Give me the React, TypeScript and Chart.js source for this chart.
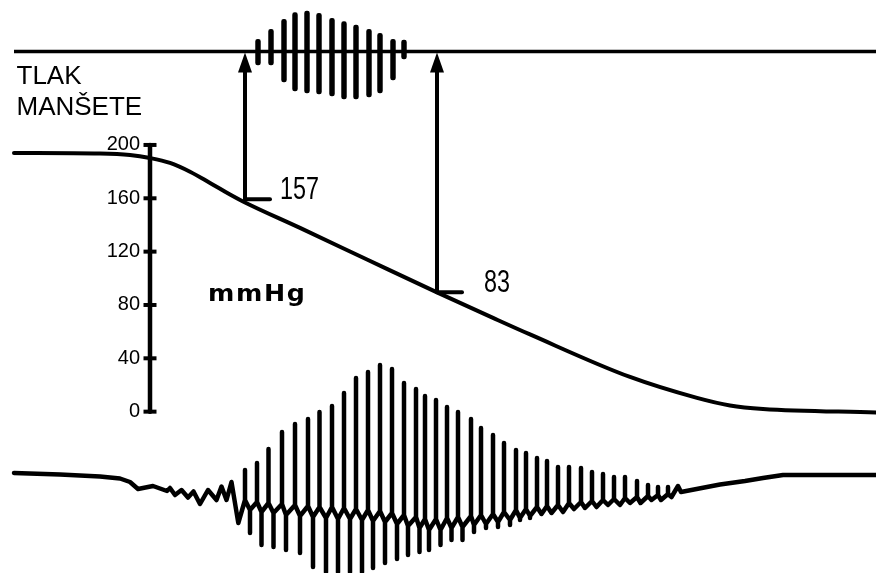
import React, { useEffect, useRef } from 'react';
import { Chart, registerables } from 'chart.js';

Chart.register(...registerables);

// ---- time axis (arbitrary time units across the record) ----
const TIME_MIN = 0;
const TIME_MAX = 876;

// ---- cuff pressure (mmHg) ----
const cuffTime = [14, 100, 130, 150, 170, 190, 210, 230, 245, 300, 367, 437, 493, 530, 630, 697, 730, 763, 876];
const cuffPressure = [194.0, 193.6, 192.5, 190.2, 186.5, 179.9, 171.5, 162.9, 156.9, 137.8, 114.1, 89.4, 70.3, 57.9, 26.0, 10.3, 4.6, 2.0, -0.6];

const pressureTicks = [0, 40, 80, 120, 160, 200];
const pressureAxisTime = 150;
const pressureLabelTime = 140;
const PRESSURE_MIN = -121.0;
const PRESSURE_MAX = 308.7;

// ---- Korotkoff sounds (top trace) ----
const soundLineTime = [14, 876];
const soundTime = [258, 271, 284, 295, 307, 319, 332, 344, 356, 369, 380, 393, 404];
const soundHigh = [12.2, 22.2, 32.2, 38.8, 40.5, 38.2, 33.2, 29.8, 26.5, 22.2, 18.2, 12.2, 11.5];
const soundLow = [-13.5, -13.5, -30.5, -39.5, -41.5, -42.5, -44.5, -47.5, -47.5, -45.5, -41.5, -28.5, -7.5];
const SOUND_MIN = -521.5;
const SOUND_MAX = 51.5;

// ---- systolic / diastolic markers ----
const markerTime = [245, 437];
const markerLevel = [159.3, 89.5];
const markerText = ['157', '83'];
const markerTextTime = [280, 484];

// ---- cuff oscillations (bottom trace) ----
// lead-in (before the large pulses)
const leadTime = [14, 60, 100, 120, 130, 138, 153, 167, 170, 175, 181.5, 188, 193.5, 200, 208, 216.5, 221.5, 226.5, 231.5, 238.3];
const leadValue = [27, 25.5, 23.5, 21.5, 18, 11, 14, 9, 12, 5, 10, 2.5, 8.5, -4, 10, 0, 13.5, 0, 18, -23];
// pulses: peak time/value, trough time/value, foot levels at peak and trough
const beatPeakTime = [245, 257, 268.5, 282, 295, 308, 319.5, 332, 344, 356, 368, 380, 392, 404, 416, 425, 436, 447, 458, 471, 481, 493, 504, 516, 526, 537, 547, 558, 569, 581, 592, 603, 614, 625, 637, 648, 658, 668];
const beatPeak = [30, 37, 51, 68, 76, 81, 88, 94, 107, 122, 128, 135, 131, 117, 111, 104, 100, 93, 88, 81, 72, 65, 57, 50, 47, 42, 39, 33, 33, 32, 28, 26, 23, 23, 19, 15, 13, 13];
const beatTroughTime = [250, 261.5, 273.5, 286, 300, 313, 326, 338, 350, 362, 373, 385, 397, 408, 419.5, 429, 440.5, 451.5, 462.5, 474, 486, 498, 510, 520, 530, 541.5, 551.5, 563, 574, 585, 596.5, 608, 620, 630, 640.5, 651.5, 661, 671.5];
const beatTrough = [-33, -45, -47, -50, -53, -67, -72, -72, -72, -72, -68, -63, -59, -55, -52, -50, -45, -40, -40, -32, -28, -27, -25, -20, -18, -13, -13, -12, -8, -7, -7, -5, -5, -3, -3, 0, 0, 3];
const beatFootHigh = [0, -2, -3, -4, -5, -6, -7, -7, -8, -9, -10, -11, -13, -15, -17, -19, -19, -18, -17, -16, -15, -14, -12, -10, -9, -7, -6, -5, -3, -2, -1, 0, 1, 2, 3, 4, 5, 6];
const beatFootLow = [-10, -12, -13, -15, -16, -17, -18, -19, -19, -20, -21, -22, -24, -26, -28, -30, -30, -28, -27, -25, -24, -22, -20, -18, -16, -14, -13, -12, -9, -8, -7, -5, -5, -3, -3, 0, 0, 3];
// tail (after the pulses fade)
const tailTime = [678, 681, 720, 745, 763, 783, 876];
const tailValue = [14, 8, 15.5, 19, 22, 25, 25];
const OSC_MIN = -73;
const OSC_MAX = 500;

const INK = '#000000';

const labelsPlugin = {
  id: 'bpLabels',
  afterDatasetsDraw(chart: any) {
    const { ctx } = chart;
    const xs = chart.scales.x;
    const ps = chart.scales.p;
    const ks = chart.scales.k;
    const yLine = ks.getPixelForValue(0);
    ctx.save();
    ctx.fillStyle = INK;
    ctx.strokeStyle = INK;
    markerTime.forEach((t, i) => {
      const x = xs.getPixelForValue(t);
      const yb = ps.getPixelForValue(markerLevel[i]);
      // arrow shaft
      ctx.lineWidth = 4;
      ctx.lineCap = 'butt';
      ctx.beginPath();
      ctx.moveTo(x, yb);
      ctx.lineTo(x, yLine + 18);
      ctx.stroke();
      // arrow head
      ctx.beginPath();
      ctx.moveTo(x, yLine + 1);
      ctx.lineTo(x - 7, yLine + 21);
      ctx.lineTo(x + 7, yLine + 21);
      ctx.closePath();
      ctx.fill();
      // level marker
      ctx.lineWidth = 4;
      ctx.lineCap = 'round';
      ctx.beginPath();
      ctx.moveTo(x, yb);
      ctx.lineTo(x + 25, yb);
      ctx.stroke();
      // value text
      ctx.save();
      ctx.font = '32px "Liberation Sans", Arial, sans-serif';
      ctx.textAlign = 'left';
      ctx.textBaseline = 'alphabetic';
      ctx.translate(xs.getPixelForValue(markerTextTime[i]), yb);
      ctx.scale(0.73, 1);
      ctx.fillText(markerText[i], 0, 0);
      ctx.restore();
    });
    // titles
    ctx.font = '26px "Liberation Sans", Arial, sans-serif';
    ctx.textAlign = 'left';
    ctx.textBaseline = 'alphabetic';
    ctx.fillText('TLAK', 16.5, 84);
    ctx.fillText('MANŠETE', 16.5, 115);
    ctx.save();
    ctx.font = 'bold 23px "DejaVu Sans", sans-serif';
    ctx.translate(208, 301);
    ctx.scale(1.1, 1);
    (ctx as any).letterSpacing = '1.5px';
    ctx.fillText('mmHg', 0, 0);
    ctx.restore();
    ctx.restore();
  },
};

export default function App() {
  const canvasRef = useRef<HTMLCanvasElement | null>(null);

  useEffect(() => {
    const canvas = canvasRef.current;
    if (!canvas) return;

    const cuffData = cuffTime.map((t, i) => ({ x: t, y: cuffPressure[i] }));
    const axisData = [
      { x: pressureAxisTime, y: pressureTicks[0] },
      { x: pressureAxisTime, y: pressureTicks[pressureTicks.length - 1] },
    ];
    const tickData = pressureTicks.map((v) => ({ x: pressureAxisTime, y: v }));
    const soundLine = soundLineTime.map((t) => ({ x: t, y: 0 }));
    const soundBars = soundTime.map((t, i) => ({ x: t, y: [soundLow[i], soundHigh[i]] }));

    const oscData: { x: number; y: number }[] = leadTime.map((t, i) => ({ x: t, y: leadValue[i] }));
    beatPeakTime.forEach((t, i) => {
      const tt = beatTroughTime[i];
      oscData.push(
        { x: t, y: beatFootHigh[i] },
        { x: t, y: beatPeak[i] },
        { x: t, y: beatFootHigh[i] },
        { x: tt, y: beatFootLow[i] },
        { x: tt, y: beatTrough[i] },
        { x: tt, y: beatFootLow[i] },
      );
    });
    tailTime.forEach((t, i) => oscData.push({ x: t, y: tailValue[i] }));

    const zeroPad = (s: any) => {
      s.paddingTop = 0;
      s.paddingBottom = 0;
      s.paddingLeft = 0;
      s.paddingRight = 0;
    };

    const chart = new Chart(canvas, {
      type: 'line',
      data: {
        datasets: [
          {
            label: 'cuff',
            data: cuffData,
            yAxisID: 'p',
            borderColor: INK,
            borderWidth: 4,
            pointRadius: 0,
            cubicInterpolationMode: 'monotone',
            borderCapStyle: 'round',
            fill: false,
          },
          {
            label: 'axis',
            data: axisData,
            yAxisID: 'p',
            borderColor: INK,
            borderWidth: 4.5,
            pointRadius: 0,
            borderCapStyle: 'round',
          },
          {
            label: 'ticks',
            data: tickData,
            yAxisID: 'p',
            showLine: false,
            pointStyle: 'line',
            pointRadius: 6.5,
            pointHoverRadius: 6.5,
            pointBorderWidth: 4,
            pointBorderColor: INK,
            borderColor: INK,
          },
          {
            label: 'soundLine',
            data: soundLine,
            yAxisID: 'k',
            borderColor: INK,
            borderWidth: 3.5,
            pointRadius: 0,
          },
          {
            type: 'bar',
            label: 'sounds',
            data: soundBars as any,
            yAxisID: 'k',
            backgroundColor: INK,
            barThickness: 4.8,
            borderRadius: 2.4,
            borderSkipped: false,
          } as any,
          {
            label: 'osc',
            data: oscData,
            yAxisID: 'o',
            borderColor: INK,
            borderWidth: 4.5,
            pointRadius: 0,
            tension: 0,
            borderJoinStyle: 'round',
            borderCapStyle: 'round',
          },
        ],
      },
      options: {
        animation: false,
        responsive: false,
        devicePixelRatio: 1,
        events: [],
        layout: { padding: 0, autoPadding: false },
        plugins: { legend: { display: false }, tooltip: { enabled: false } },
        scales: {
          x: { type: 'linear', display: false, min: TIME_MIN, max: TIME_MAX, offset: false, grid: { display: false } },
          p: {
            type: 'linear',
            axis: 'y',
            position: { x: pressureLabelTime } as any,
            min: PRESSURE_MIN,
            max: PRESSURE_MAX,
            afterBuildTicks: (s: any) => {
              s.ticks = pressureTicks.map((v) => ({ value: v }));
            },
            afterFit: zeroPad,
            grid: { display: false, drawTicks: false },
            border: { display: false },
            ticks: {
              padding: 0,
              color: INK,
              autoSkip: false,
              font: { family: '"Liberation Sans", Arial, sans-serif', size: 20 },
            },
          },
          k: { type: 'linear', axis: 'y', display: false, min: SOUND_MIN, max: SOUND_MAX, grid: { display: false } },
          o: { type: 'linear', axis: 'y', display: false, min: OSC_MIN, max: OSC_MAX, grid: { display: false } },
        },
      } as any,
      plugins: [labelsPlugin],
    });

    return () => chart.destroy();
  }, []);

  return (
    <div style={{ position: 'fixed', left: 0, top: 0, width: 876, height: 573, background: '#fff' }}>
      <canvas ref={canvasRef} width={876} height={573} style={{ display: 'block' }} />
    </div>
  );
}
